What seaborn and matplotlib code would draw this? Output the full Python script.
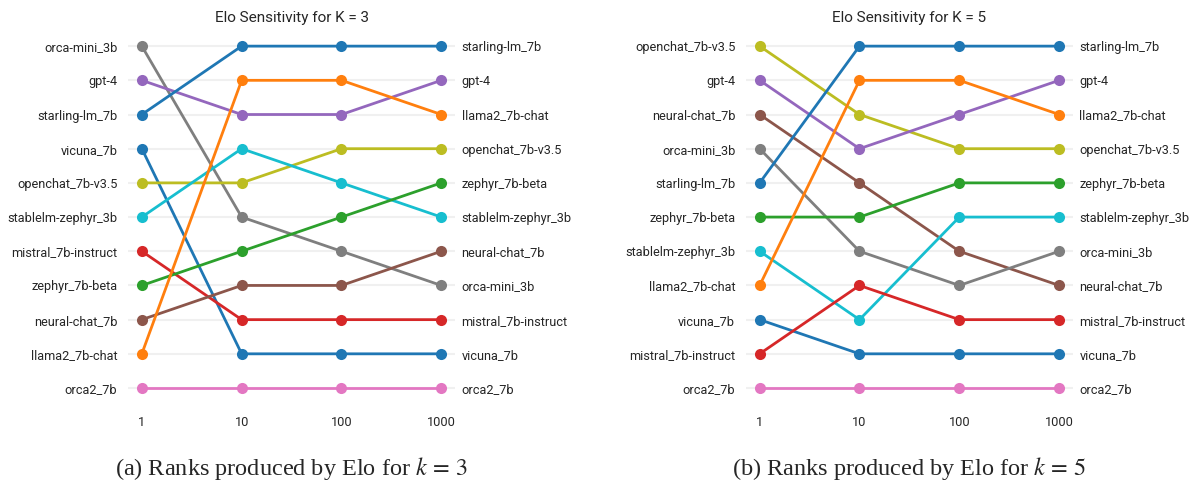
import matplotlib
matplotlib.use("Agg")
import matplotlib.pyplot as plt
import seaborn as sns
import pandas as pd

# x positions (number of permutations) shown as categorical ticks
X_LABELS = ["1", "10", "100", "1000"]

# model order (rank 1 at top) at each x, K = 3
K3_ORDER_1 = ["orca-mini_3b", "gpt-4", "starling-lm_7b", "vicuna_7b", "openchat_7b-v3.5",
              "stablelm-zephyr_3b", "mistral_7b-instruct", "zephyr_7b-beta", "neural-chat_7b",
              "llama2_7b-chat", "orca2_7b"]
K3_ORDER_10 = ["starling-lm_7b", "llama2_7b-chat", "gpt-4", "stablelm-zephyr_3b", "openchat_7b-v3.5",
               "orca-mini_3b", "zephyr_7b-beta", "neural-chat_7b", "mistral_7b-instruct",
               "vicuna_7b", "orca2_7b"]
K3_ORDER_100 = ["starling-lm_7b", "llama2_7b-chat", "gpt-4", "openchat_7b-v3.5", "stablelm-zephyr_3b",
                "zephyr_7b-beta", "orca-mini_3b", "neural-chat_7b", "mistral_7b-instruct",
                "vicuna_7b", "orca2_7b"]
K3_ORDER_1000 = ["starling-lm_7b", "gpt-4", "llama2_7b-chat", "openchat_7b-v3.5", "zephyr_7b-beta",
                 "stablelm-zephyr_3b", "neural-chat_7b", "orca-mini_3b", "mistral_7b-instruct",
                 "vicuna_7b", "orca2_7b"]

# K = 5
K5_ORDER_1 = ["openchat_7b-v3.5", "gpt-4", "neural-chat_7b", "orca-mini_3b", "starling-lm_7b",
              "zephyr_7b-beta", "stablelm-zephyr_3b", "llama2_7b-chat", "vicuna_7b",
              "mistral_7b-instruct", "orca2_7b"]
K5_ORDER_10 = ["starling-lm_7b", "llama2_7b-chat", "openchat_7b-v3.5", "gpt-4", "neural-chat_7b",
               "zephyr_7b-beta", "orca-mini_3b", "mistral_7b-instruct", "stablelm-zephyr_3b",
               "vicuna_7b", "orca2_7b"]
K5_ORDER_100 = ["starling-lm_7b", "llama2_7b-chat", "gpt-4", "openchat_7b-v3.5", "zephyr_7b-beta",
                "stablelm-zephyr_3b", "neural-chat_7b", "orca-mini_3b", "mistral_7b-instruct",
                "vicuna_7b", "orca2_7b"]
K5_ORDER_1000 = ["starling-lm_7b", "gpt-4", "llama2_7b-chat", "openchat_7b-v3.5", "zephyr_7b-beta",
                 "stablelm-zephyr_3b", "orca-mini_3b", "neural-chat_7b", "mistral_7b-instruct",
                 "vicuna_7b", "orca2_7b"]

COLORS = {
    "starling-lm_7b": "#1f77b4",
    "llama2_7b-chat": "#ff7f0e",
    "zephyr_7b-beta": "#2ca02c",
    "mistral_7b-instruct": "#d62728",
    "gpt-4": "#9467bd",
    "neural-chat_7b": "#8c564b",
    "orca2_7b": "#e377c2",
    "orca-mini_3b": "#7f7f7f",
    "openchat_7b-v3.5": "#bcbd22",
    "stablelm-zephyr_3b": "#17becf",
    "vicuna_7b": "#1f77b4",
}


def to_long(orders):
    rows = []
    for step, order in enumerate(orders):
        for pos, model in enumerate(order):
            rows.append({"step": step, "rank": pos + 1, "model": model})
    return pd.DataFrame(rows)


sns.set_style("white")
plt.rcParams["font.family"] = ["Roboto", "DejaVu Sans"]
plt.rcParams["mathtext.fontset"] = "stix"

fig = plt.figure(figsize=(11.95, 4.84), dpi=100)

panels = [
    ([0.107, 0.163, 0.274, 0.777], [K3_ORDER_1, K3_ORDER_10, K3_ORDER_100, K3_ORDER_1000],
     "Elo Sensitivity for K = 3", "(a) Ranks produced by Elo for $k\\,=\\,3$"),
    ([0.624, 0.163, 0.274, 0.777], [K5_ORDER_1, K5_ORDER_10, K5_ORDER_100, K5_ORDER_1000],
     "Elo Sensitivity for K = 5", "(b) Ranks produced by Elo for $k\\,=\\,5$"),
]

for rect, orders, title, caption in panels:
    ax = fig.add_axes(rect)
    df = to_long(orders)
    n = len(orders[0])
    for r in range(1, n + 1):
        ax.axhline(r, color="#f0f0f0", lw=1.5, zorder=0)
    sns.lineplot(data=df, x="step", y="rank", hue="model", palette=COLORS,
                 marker="o", markersize=8, markeredgewidth=0, linewidth=2,
                 legend=False, ax=ax)
    ax.set_xlim(-0.14, len(X_LABELS) - 1 + 0.14)
    ax.set_ylim(n + 0.5, 0.5)
    ax.set_xticks(range(len(X_LABELS)))
    ax.set_xticklabels(X_LABELS, fontsize=9.2)
    ax.set_yticks(range(1, n + 1))
    ax.set_yticklabels(orders[0], fontsize=9.2)
    ax.tick_params(axis="x", length=0, pad=8)
    ax.tick_params(axis="y", length=0, pad=7.5)
    ax.set_xlabel("")
    ax.set_ylabel("")
    ax.set_title(title, fontsize=11, pad=5)
    for s in ax.spines.values():
        s.set_visible(False)

    ax2 = ax.twinx()
    ax2.set_ylim(ax.get_ylim())
    ax2.set_yticks(range(1, n + 1))
    ax2.set_yticklabels(orders[-1], fontsize=9.2)
    ax2.tick_params(length=0, pad=4.5)
    for s in ax2.spines.values():
        s.set_visible(False)

    cx = rect[0] + rect[2] / 2
    fig.text(cx, 0.019, caption, ha="center", va="baseline", fontsize=17.5,
             family="Liberation Serif")

fig.savefig("out.png", dpi=100, facecolor="white")
